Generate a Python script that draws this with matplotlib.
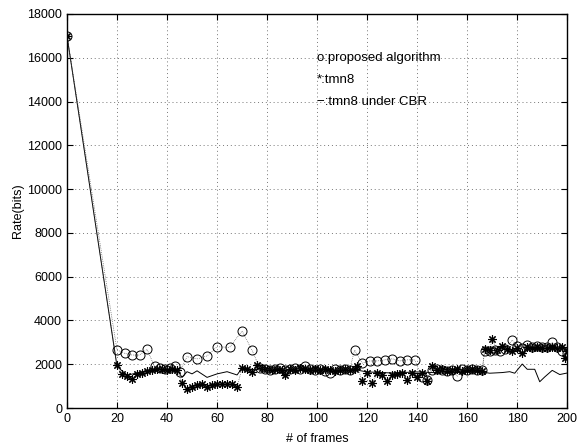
import matplotlib
matplotlib.use("Agg")
import matplotlib.pyplot as plt

plt.rcParams['font.family'] = ['Liberation Sans', 'DejaVu Sans']

# proposed algorithm (o)
prop_frames = [0, 20, 23, 26, 29, 32, 35, 37, 39, 41, 43, 45,
               48, 52, 56, 60, 65, 70, 74,
               77, 79, 81, 83, 85, 87, 89, 91, 93, 95, 97, 99, 101, 103, 105, 107,
               109, 111, 113, 115,
               118, 121, 124, 127, 130, 133, 136, 139, 142, 144,
               146, 148, 150, 152, 154, 156, 158, 160, 162, 164, 166,
               167, 169, 171, 173, 175, 178, 180, 182, 184, 186, 188, 190, 192,
               194, 196, 198, 200]
prop_rate = [17000, 2650, 2500, 2420, 2420, 2680, 1900, 1850, 1800, 1850, 1900, 1650,
             2350, 2240, 2380, 2800, 2770, 3520, 2630,
             1850, 1800, 1750, 1800, 1850, 1750, 1800, 1850, 1800, 1900, 1800, 1750, 1800, 1700, 1600, 1800,
             1750, 1800, 1750, 2650,
             2050, 2150, 2150, 2200, 2250, 2150, 2200, 2200, 1400, 1300,
             1750, 1800, 1750, 1700, 1750, 1450, 1800, 1750, 1800, 1750, 1750,
             2600, 2600, 2650, 2600, 2700, 3100, 2850, 2750, 2900, 2800, 2850, 2800, 2800,
             3000, 2800, 2600, 2500]

# tmn8 (*)
tmn_frames = [0, 20, 22, 24, 26, 28, 30, 32, 34, 36, 38, 40, 42, 44,
              46, 48, 50, 52, 54, 56, 58, 60, 62, 64, 66, 68,
              70, 72, 74, 76, 78, 80, 82, 84, 86, 87, 89, 91, 93, 95, 97, 99,
              101, 103, 105, 107, 109, 111, 113, 115,
              116, 118, 120, 122, 124, 126, 128, 130, 132, 134, 136, 138, 140, 142, 144,
              146, 148, 150, 152, 154, 156, 158, 160, 162, 164, 166,
              167, 169, 170, 172, 174, 176, 178, 180, 182, 184, 186, 188, 190, 192,
              194, 196, 198, 199, 200]
tmn_rate = [17000, 1960, 1550, 1450, 1330, 1550, 1600, 1700, 1750, 1800, 1800, 1750, 1800, 1750,
            1160, 850, 950, 1050, 1100, 950, 1050, 1100, 1100, 1100, 1100, 950,
            1850, 1800, 1650, 1950, 1850, 1800, 1750, 1800, 1750, 1500, 1800, 1750, 1850, 1800, 1750, 1800,
            1750, 1800, 1750, 1700, 1750, 1800, 1750, 1800,
            1900, 1250, 1600, 1150, 1600, 1500, 1250, 1500, 1550, 1600, 1300, 1600, 1400, 1600, 1250,
            1900, 1750, 1800, 1700, 1750, 1800, 1700, 1750, 1800, 1750, 1700,
            2700, 2650, 3150, 2650, 2850, 2700, 2600, 2750, 2500, 2800, 2750, 2800, 2750, 2750,
            2800, 2750, 2800, 2300, 2600]

# tmn8 under CBR (-)
cbr_frames = [0, 20, 24, 28, 32, 36, 40, 44, 46, 48, 50, 52, 56, 60, 64, 68, 70,
              75, 80, 90, 100, 110, 115, 120, 130, 140, 150, 160, 165,
              169, 174, 177, 179, 182, 184, 187, 189, 191, 194, 197, 200]
cbr_rate = [17000, 1900, 1500, 1600, 1700, 1750, 1750, 1750, 1400, 1660, 1560, 1700, 1400, 1560, 1660, 1510, 1830,
            1750, 1750, 1700, 1750, 1700, 1750, 1650, 1600, 1650, 1600, 1650, 1660,
            1590, 1620, 1660, 1590, 2010, 1770, 1770, 1200, 1420, 1720, 1530, 1600]

fig = plt.figure(figsize=(5.8, 4.47), dpi=100)
ax = fig.add_axes([0.1155, 0.0872, 0.8625, 0.8815])

ax.plot(cbr_frames, cbr_rate, '-', color='black', linewidth=0.7)
ax.plot(tmn_frames, tmn_rate, ':', color='#444444', linewidth=0.5,
        marker=(8, 2, 0), markersize=6, markerfacecolor='black', markeredgecolor='black',
        markeredgewidth=0.8)
ax.plot(prop_frames, prop_rate, ':', color='#444444', linewidth=0.5,
        marker='o', markersize=6.5, markerfacecolor='none', markeredgecolor='black',
        markeredgewidth=0.7)

ax.set_xlim(0, 200)
ax.set_ylim(0, 18000)
ax.set_xticks(range(0, 201, 20))
ax.set_yticks(range(0, 18001, 2000))
ax.grid(True, linestyle=(0, (1, 3)), color='#777777', linewidth=0.7)
ax.tick_params(direction='in', top=True, right=True, labelsize=9, length=4)
for s in ax.spines.values():
    s.set_linewidth(1.0)

ax.set_xlabel('# of frames', fontsize=9, labelpad=6)
ax.set_ylabel('Rate(bits)', fontsize=9, labelpad=2)

ax.text(100, 16000, 'o:proposed algorithm', fontsize=9.5, va='center', ha='left')
ax.text(100, 15000, '*:tmn8', fontsize=9.5, va='center', ha='left')
ax.text(100, 14000, '\u2212:tmn8 under CBR', fontsize=9.5, va='center', ha='left')

fig.savefig('out.png', dpi=100)
